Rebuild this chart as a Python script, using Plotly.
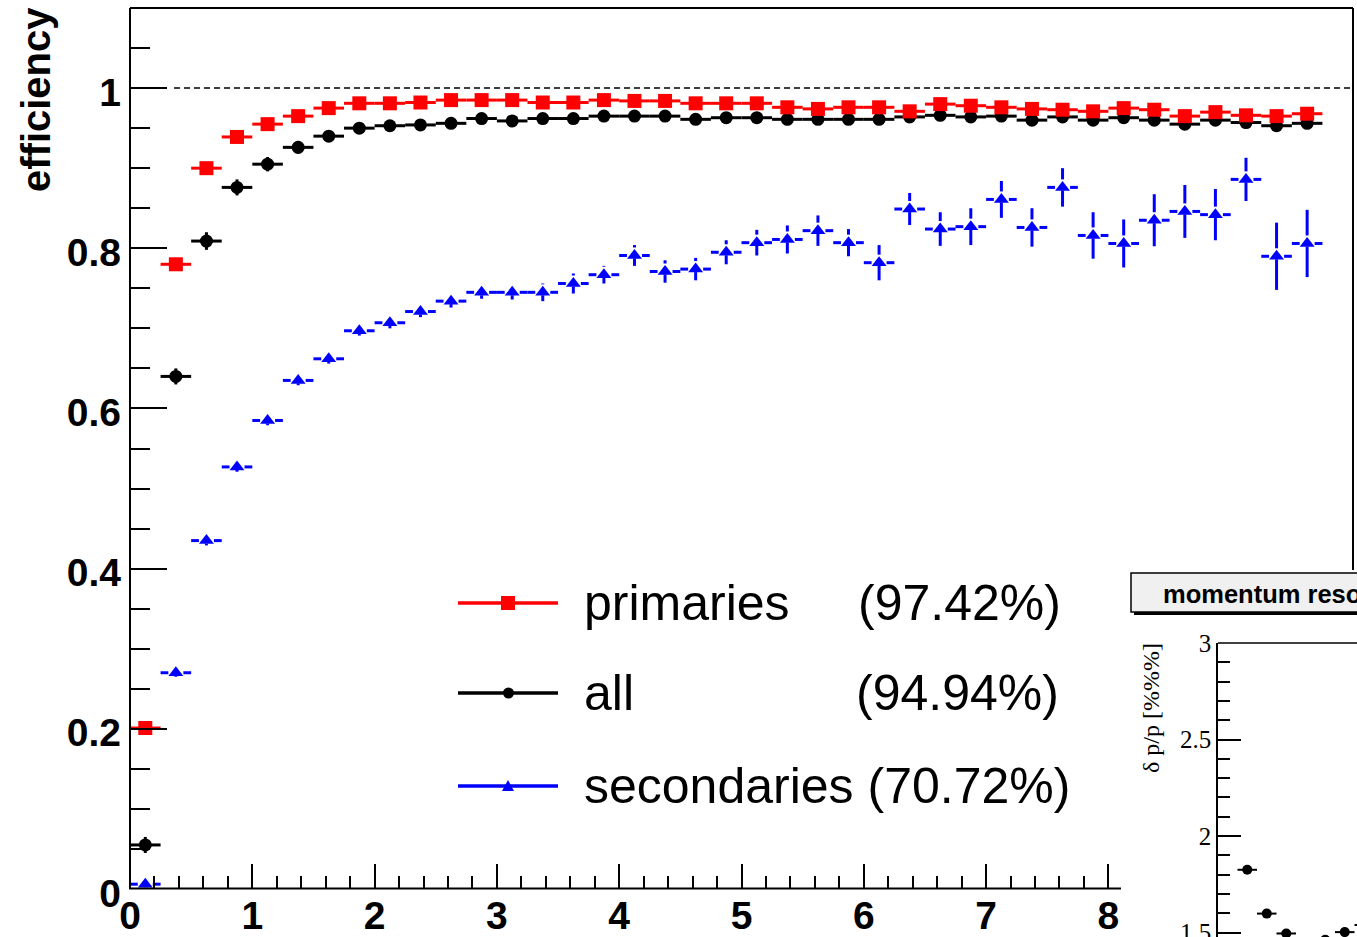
import plotly.graph_objects as go

W, H = 1357, 937

# ---------------- data ----------------
p_bins = [0.125, 0.375, 0.625, 0.875, 1.125, 1.375, 1.625, 1.875, 2.125, 2.375,
          2.625, 2.875, 3.125, 3.375, 3.625, 3.875, 4.125, 4.375, 4.625, 4.875,
          5.125, 5.375, 5.625, 5.875, 6.125, 6.375, 6.625, 6.875, 7.125, 7.375,
          7.625, 7.875, 8.125, 8.375, 8.625, 8.875, 9.125, 9.375, 9.625]
bin_half = 0.125

primaries = [0.201, 0.780, 0.900, 0.939, 0.955, 0.965, 0.975, 0.981, 0.981, 0.982,
             0.985, 0.985, 0.985, 0.982, 0.982, 0.985, 0.984, 0.984, 0.981, 0.981,
             0.981, 0.976, 0.974, 0.976, 0.976, 0.971, 0.980, 0.978, 0.976, 0.974,
             0.973, 0.971, 0.975, 0.973, 0.965, 0.970, 0.966, 0.965, 0.968]
prim_err = [0.008, 0.008, 0.006, 0.005, 0.004, 0.004, 0.003, 0.003, 0.003, 0.003,
            0.003, 0.003, 0.003, 0.003, 0.003, 0.003, 0.003, 0.003, 0.003, 0.003,
            0.003, 0.003, 0.003, 0.004, 0.004, 0.004, 0.004, 0.004, 0.004, 0.004,
            0.004, 0.005, 0.005, 0.005, 0.005, 0.005, 0.005, 0.006, 0.006]

all_eff = [0.055, 0.640, 0.809, 0.876, 0.905, 0.926, 0.940, 0.950, 0.953, 0.954,
           0.956, 0.962, 0.959, 0.962, 0.962, 0.965, 0.965, 0.965, 0.961, 0.963,
           0.963, 0.961, 0.961, 0.961, 0.961, 0.964, 0.966, 0.964, 0.965, 0.960,
           0.964, 0.960, 0.963, 0.960, 0.955, 0.960, 0.957, 0.953, 0.956]
all_err = [0.010, 0.010, 0.011, 0.010, 0.009, 0.008, 0.007, 0.006, 0.005, 0.005,
           0.005, 0.005, 0.005, 0.005, 0.005, 0.005, 0.005, 0.005, 0.005, 0.005,
           0.005, 0.005, 0.005, 0.005, 0.005, 0.005, 0.005, 0.005, 0.005, 0.005,
           0.005, 0.005, 0.005, 0.005, 0.005, 0.005, 0.005, 0.006, 0.006]

secondaries = [0.006, 0.270, 0.435, 0.527, 0.585, 0.635, 0.662, 0.697, 0.707, 0.721,
               0.734, 0.745, 0.745, 0.745, 0.756, 0.767, 0.791, 0.771, 0.774, 0.795,
               0.807, 0.811, 0.822, 0.807, 0.782, 0.849, 0.824, 0.827, 0.861, 0.826,
               0.876, 0.816, 0.806, 0.835, 0.846, 0.842, 0.886, 0.790, 0.806]
sec_err = [0.004, 0.005, 0.006, 0.006, 0.006, 0.006, 0.006, 0.006, 0.007, 0.007,
           0.008, 0.008, 0.009, 0.011, 0.0125, 0.011, 0.013, 0.014, 0.014, 0.015,
           0.016, 0.0175, 0.019, 0.017, 0.022, 0.020, 0.021, 0.023, 0.023, 0.024,
           0.024, 0.029, 0.030, 0.0325, 0.033, 0.032, 0.027, 0.042, 0.042]

legend_names = ["primaries", "all", "secondaries"]
legend_pct = ["(97.42%)", "(94.94%)", "(70.72%)"]

# inset: momentum resolution
res_p = [0.15, 0.25, 0.35, 0.45, 0.55, 0.65, 0.75]
res_val = [1.825, 1.598, 1.495, 1.430, 1.462, 1.502, 1.539]
res_err = [0.006, 0.006, 0.006, 0.006, 0.006, 0.006, 0.006]
res_half = 0.05

x_major = [0, 1, 2, 3, 4, 5, 6, 7, 8]
x_major_text = ["0", "1", "2", "3", "4", "5", "6", "7", "8"]
x_minor = [round(0.2 * k, 2) for k in range(1, 41) if k % 5 != 0]
y_major = [0, 0.2, 0.4, 0.6, 0.8, 1.0]
y_major_text = ["0", "0.2", "0.4", "0.6", "0.8", "1"]
y_minor = [round(0.05 * k, 2) for k in range(1, 23) if k % 4 != 0]
r_major = [1.5, 2, 2.5, 3]
r_major_text = ["1.5", "2", "2.5", "3"]
r_minor = [round(1.5 + 0.1 * k, 2) for k in range(1, 15) if k % 5 != 0]


# ---------------- helpers ----------------
def px(x):
    return x / W


def py(y):
    return 1 - y / H


def hsegs(xs, ys, half, gap):
    X, Y = [], []
    for x, y in zip(xs, ys):
        if gap > 0:
            X += [x - half, x - gap, None, x + gap, x + half, None]
            Y += [y, y, None, y, y, None]
        else:
            X += [x - half, x + half, None]
            Y += [y, y, None]
    return X, Y


def vsegs(xs, ys, errs, gap_up, gap_dn):
    X, Y = [], []
    for x, y, e in zip(xs, ys, errs):
        if e > gap_up:
            X += [x, x, None]
            Y += [y + gap_up, y + e, None]
        if e > gap_dn:
            X += [x, x, None]
            Y += [y - gap_dn, y - e, None]
    return X, Y


XSCALE = 122.3   # px per unit (main x)
YSCALE = 800.9   # px per unit (main y)

fig = go.Figure()

series = [
    (secondaries, sec_err, "#0000ff", "triangle-up", 13, 7.5, 8.0, 3.0),
    (all_eff, all_err, "#000000", "circle", 13, 0, 0, 0),
    (primaries, prim_err, "#ff0000", "square", 14, 0, 0, 0),
]
for vals, errs, col, sym, msize, gx, gu, gd in series:
    hx, hy = hsegs(p_bins, vals, bin_half, gx / XSCALE)
    vx, vy = vsegs(p_bins, vals, errs, gu / YSCALE, gd / YSCALE)
    fig.add_trace(go.Scatter(x=hx + vx, y=hy + vy, mode="lines",
                             line=dict(color=col, width=3), hoverinfo="skip",
                             cliponaxis=False))
    fig.add_trace(go.Scatter(x=p_bins, y=vals, mode="markers",
                             marker=dict(symbol=sym, size=msize, color=col,
                                         line=dict(width=0)),
                             cliponaxis=False))

# inset trace
hx, hy = hsegs(res_p, res_val, res_half, 0)
vx, vy = vsegs(res_p, res_val, res_err, 0, 0)
fig.add_trace(go.Scatter(x=hx + vx, y=hy + vy, mode="lines", xaxis="x2", yaxis="y2",
                         line=dict(color="black", width=2), hoverinfo="skip"))
fig.add_trace(go.Scatter(x=res_p, y=res_val, mode="markers", xaxis="x2", yaxis="y2",
                         marker=dict(symbol="circle", size=10, color="black")))

bold = dict(family="Liberation Sans, Arial, sans-serif", size=39, color="black",
            weight="bold")

fig.update_layout(
    width=W, height=H,
    margin=dict(l=0, r=0, t=0, b=0, pad=0, autoexpand=False),
    paper_bgcolor="white", plot_bgcolor="white",
    showlegend=False,
    xaxis=dict(domain=[px(130), px(1353)], range=[0, 10], anchor="y",
               automargin=False,
               showgrid=False, zeroline=False, showline=False,
               tickmode="array", tickvals=x_major, ticktext=x_major_text,
               ticks="inside", ticklen=25, tickwidth=2, tickcolor="black",
               minor=dict(tickvals=x_minor, ticks="inside", ticklen=13,
                          tickwidth=2, tickcolor="black", showgrid=False),
               tickfont=bold),
    yaxis=dict(domain=[py(889), py(8)], range=[0, 1.1], anchor="x",
               automargin=False,
               showgrid=False, zeroline=False, showline=False,
               tickmode="array", tickvals=y_major, ticktext=y_major_text,
               ticks="inside", ticklen=37, tickwidth=2, tickcolor="black",
               ticklabelstandoff=8, ticklabelshift=4,
               minor=dict(tickvals=y_minor, ticks="inside", ticklen=20,
                          tickwidth=2, tickcolor="black", showgrid=False),
               tickfont=bold),
    xaxis2=dict(domain=[px(1218), 1], range=[0, 0.7128], anchor="y2",
                automargin=False,
                showgrid=False, zeroline=False, showline=False,
                showticklabels=False, ticks=""),
    yaxis2=dict(domain=[0, py(643)], range=[1.4767, 3.0], anchor="x2",
                automargin=False, ticklabeloverflow="allow",
                showgrid=False, zeroline=False, showline=True,
                linecolor="black", linewidth=1.5,
                tickmode="array", tickvals=r_major, ticktext=r_major_text,
                ticks="inside", ticklen=23, tickwidth=1.5, tickcolor="black",
                minor=dict(tickvals=r_minor, ticks="inside", ticklen=12,
                           tickwidth=1.5, tickcolor="black", showgrid=False),
                tickfont=dict(family="Liberation Serif, Times New Roman, serif",
                              size=25, color="black")),
)

shapes = []


def pline(x0, y0, x1, y1, color="black", width=2, dash=None):
    d = dict(type="line", xref="paper", yref="paper",
             x0=px(x0), y0=py(y0), x1=px(x1), y1=py(y1),
             line=dict(color=color, width=width))
    if dash:
        d["line"]["dash"] = dash
    shapes.append(d)


# main frame (bottom/right truncated by the inset)
pline(130, 8, 130, 889)
pline(130, 8, 1353, 8)
pline(1353, 8, 1353, 570)
pline(129, 888.5, 1121, 888.5)

# dashed line at efficiency = 1
shapes.append(dict(type="line", xref="paper", yref="y", x0=px(174), x1=px(1353),
                   y0=1, y1=1, line=dict(color="black", width=1.5, dash="6px,4px"),
                   layer="below"))

# inset frame
pline(1218, 643, 1365, 643, width=1.5)

# inset title box with shadow
shapes.append(dict(type="rect", xref="paper", yref="paper",
                   x0=px(1134), x1=px(1375), y0=py(576), y1=py(615),
                   fillcolor="black", line=dict(width=0)))
shapes.append(dict(type="rect", xref="paper", yref="paper",
                   x0=px(1131), x1=px(1375), y0=py(573), y1=py(612),
                   fillcolor="#f0f0f0", line=dict(color="black", width=1.5)))

# legend samples
leg_rows = [603, 693, 786]
leg_cols = ["#ff0000", "#000000", "#0000ff"]
for yy, col in zip(leg_rows, leg_cols):
    pline(458, yy, 558, yy, color=col, width=3.5)
# square
shapes.append(dict(type="rect", xref="paper", yref="paper",
                   x0=px(501), x1=px(515), y0=py(596), y1=py(610),
                   fillcolor="#ff0000", line=dict(width=0)))
# circle
shapes.append(dict(type="circle", xref="paper", yref="paper",
                   x0=px(503), x1=px(514), y0=py(687.5), y1=py(698.5),
                   fillcolor="#000000", line=dict(width=0)))
# triangle
tri = "M {} {} L {} {} L {} {} Z".format(px(502), py(791), px(514), py(791),
                                        px(508), py(780))
shapes.append(dict(type="path", xref="paper", yref="paper", path=tri,
                   fillcolor="#0000ff", line=dict(width=0)))

fig.update_layout(shapes=shapes)

ann = []
leg_font = dict(family="Liberation Sans, Arial, sans-serif", size=50, color="black")
leg_text = [legend_names[0], legend_names[1], legend_names[2] + " " + legend_pct[2]]
for yy, name in zip(leg_rows, leg_text):
    ann.append(dict(xref="paper", yref="paper", x=px(582), y=py(yy), text=name,
                    showarrow=False, xanchor="left", yanchor="middle", font=leg_font))
for yy, pct, xx in zip(leg_rows[:2], legend_pct[:2], [856, 854]):
    ann.append(dict(xref="paper", yref="paper", x=px(xx), y=py(yy), text=pct,
                    showarrow=False, xanchor="left", yanchor="middle", font=leg_font))

ann.append(dict(xref="paper", yref="paper", x=px(36), y=py(100), text="efficiency",
                textangle=-90, showarrow=False, xanchor="center", yanchor="middle",
                font=dict(family="Liberation Sans, Arial, sans-serif", size=40,
                          color="black", weight="bold")))
ann.append(dict(xref="paper", yref="paper", x=px(1161), y=py(594),
                text="momentum resolution", showarrow=False, xanchor="left",
                yanchor="middle",
                font=dict(family="Liberation Sans, Arial, sans-serif", size=25.5,
                          color="black", weight="bold")))
ann.append(dict(xref="paper", yref="paper", x=px(1151), y=py(708),
                text="δ p/p [%%%]", textangle=-90, showarrow=False,
                xanchor="center", yanchor="middle",
                font=dict(family="Liberation Serif, Times New Roman, serif", size=24,
                          color="black")))
fig.update_layout(annotations=ann)

fig.write_html("out.html")
